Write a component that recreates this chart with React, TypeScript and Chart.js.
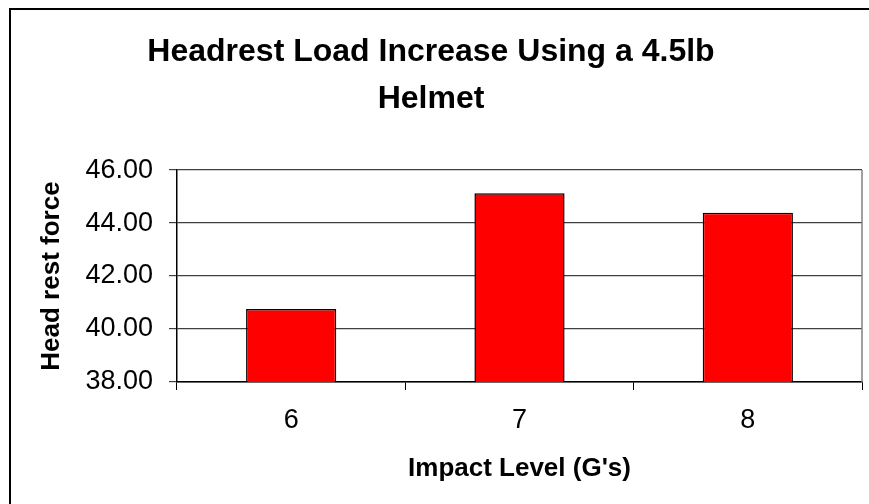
import React, { useEffect, useRef } from "react";
import { Chart, registerables } from "chart.js";

Chart.register(...registerables);

const categories = ["6", "7", "8"];
const headRestForce = [40.76, 45.13, 44.39];
const titleLines = ["Headrest Load Increase Using a 4.5lb", "Helmet"];
const xTitle = "Impact Level (G's)";
const yTitle = "Head rest force";
const yMin = 38;
const yMax = 46;
const yStep = 2;

const FONT = "'Liberation Sans', Arial, Helvetica, sans-serif";

const framePlugin = {
  id: "frame",
  beforeDraw(chart: any) {
    const { ctx, width, height } = chart;
    ctx.save();
    ctx.fillStyle = "#ffffff";
    ctx.fillRect(0, 0, width, height);
    ctx.restore();
  },
  afterDraw(chart: any) {
    const { ctx, chartArea, width, height } = chart;
    ctx.save();
    ctx.strokeStyle = "#000000";
    ctx.lineWidth = 2;
    ctx.beginPath();
    ctx.moveTo(10, height + 5);
    ctx.lineTo(10, 9);
    ctx.lineTo(width + 5, 9);
    ctx.stroke();
    ctx.strokeStyle = "#808080";
    ctx.lineWidth = 1.5;
    ctx.beginPath();
    ctx.moveTo(chartArea.right, chartArea.top);
    ctx.lineTo(chartArea.right, chartArea.bottom);
    ctx.stroke();
    ctx.restore();
  },
};

export default function App() {
  const ref = useRef<HTMLCanvasElement | null>(null);

  useEffect(() => {
    if (!ref.current) return;
    const chart = new Chart(ref.current, {
      type: "bar",
      data: {
        labels: categories,
        datasets: [
          {
            label: yTitle,
            data: headRestForce,
            backgroundColor: "#ff0000",
            borderColor: "#000000",
            borderWidth: 1.5,
            categoryPercentage: 1,
            barPercentage: 0.395,
          },
        ],
      },
      plugins: [framePlugin],
      options: {
        responsive: false,
        animation: false,
        layout: { padding: { left: 0, right: 7, top: 0, bottom: 0 } },
        plugins: {
          legend: { display: false },
          tooltip: { enabled: false },
          title: {
            display: true,
            text: titleLines,
            color: "#000000",
            font: { family: FONT, size: 32, weight: "bold", lineHeight: 1.47 },
            padding: { top: 29, bottom: 47 },
          },
        },
        scales: {
          x: {
            grid: {
              display: true,
              drawOnChartArea: false,
              drawTicks: true,
              tickLength: 8,
              color: "#000000",
              offset: true,
            },
            border: { display: true, color: "#000000", width: 1.5 },
            ticks: {
              color: "#000000",
              font: { family: FONT, size: 27 },
              padding: 14,
            },
            title: {
              display: true,
              text: xTitle,
              color: "#000000",
              font: { family: FONT, size: 26, weight: "bold", lineHeight: 1.2 },
              padding: { top: 0, bottom: 20 },
            },
            afterFit(scale: any) {
              scale.height = 122;
            },
          },
          y: {
            min: yMin,
            max: yMax,
            grid: {
              color: "#404040",
              lineWidth: 1.2,
              drawTicks: true,
              tickLength: 8,
            },
            border: { display: true, color: "#000000", width: 1.5 },
            ticks: {
              stepSize: yStep,
              color: "#000000",
              font: { family: FONT, size: 27 },
              padding: 16,
              callback: (v: any) => Number(v).toFixed(2),
            },
            title: {
              display: true,
              text: yTitle,
              color: "#000000",
              font: { family: FONT, size: 26, weight: "bold", lineHeight: 1.2 },
              padding: { top: 36, bottom: 0 },
            },
            afterFit(scale: any) {
              scale.width = 177;
            },
          },
        },
      },
    });
    return () => chart.destroy();
  }, []);

  return (
    <div style={{ position: "absolute", left: 0, top: 0, width: 869, height: 504 }}>
      <canvas ref={ref} width={869} height={504} style={{ display: "block" }} />
    </div>
  );
}
